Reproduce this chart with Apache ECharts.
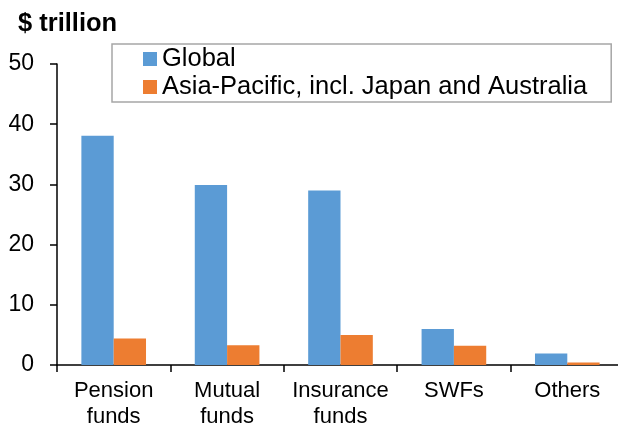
<!DOCTYPE html>
<html>
<head>
<meta charset="utf-8">
<script src="https://cdn.jsdelivr.net/npm/echarts@6/dist/echarts.min.js"></script>
<style>
  html, body { margin: 0; padding: 0; background: #fff; }
  #chart { width: 618px; height: 426px; }
</style>
</head>
<body>
<div id="chart"></div>
<script>
var categories = ['Pension\nfunds', 'Mutual\nfunds', 'Insurance\nfunds', 'SWFs', 'Others'];
var seriesNames = ['Global', 'Asia-Pacific, incl. Japan and Australia'];
var globalValues = [38.1, 29.9, 29.0, 6.0, 1.9];
var asiaValues = [4.4, 3.3, 5.0, 3.2, 0.4];
var yTicks = [0, 10, 20, 30, 40, 50];

var font = 'Liberation Sans, Arial, sans-serif';
var myChart = echarts.init(document.getElementById('chart'), null, { renderer: 'canvas' });

var option = {
    animation: false,
    title: {
        text: '$ trillion',
        left: 18,
        top: 11,
        padding: 0,
        textStyle: { fontFamily: font, fontSize: 25.5, fontWeight: 'bold', color: '#000' }
    },
    color: ['#5B9BD5', '#ED7D31'],
    legend: {
        orient: 'vertical',
        left: 112,
        top: 44,
        padding: [2, 24, 2, 31],
        itemGap: 2,
        itemWidth: 14,
        itemHeight: 14,
        icon: 'rect',
        borderColor: '#a6a6a6',
        borderWidth: 1.5,
        backgroundColor: '#fff',
        textStyle: { fontFamily: font, fontSize: 25.5, color: '#000', lineHeight: 25 },
        data: seriesNames
    },
    grid: {
        left: 57,
        top: 64,
        width: 567,
        height: 301,
        containLabel: false,
        outerBoundsMode: 'none'
    },
    xAxis: {
        type: 'category',
        data: categories,
        axisLine: { lineStyle: { color: '#000', width: 1.5 } },
        axisTick: { show: true, length: 7, lineStyle: { color: '#000', width: 1.5 } },
        axisLabel: { fontFamily: font, fontSize: 22, color: '#000', lineHeight: 26, margin: 13, interval: 0 }
    },
    yAxis: {
        type: 'value',
        min: yTicks[0],
        max: yTicks[yTicks.length - 1],
        interval: 10,
        splitLine: { show: false },
        axisLine: { show: true, lineStyle: { color: '#000', width: 1.5 } },
        axisTick: { show: true, length: 7, lineStyle: { color: '#000', width: 1.5 } },
        axisLabel: { fontFamily: font, fontSize: 23, color: '#000', margin: 23 }
    },
    series: [
        {
            name: seriesNames[0],
            type: 'bar',
            barGap: '0%',
            barCategoryGap: '43%',
            data: globalValues
        },
        {
            name: seriesNames[1],
            type: 'bar',
            barGap: '0%',
            barCategoryGap: '43%',
            data: asiaValues
        }
    ]
};

myChart.setOption(option);
</script>
</body>
</html>
